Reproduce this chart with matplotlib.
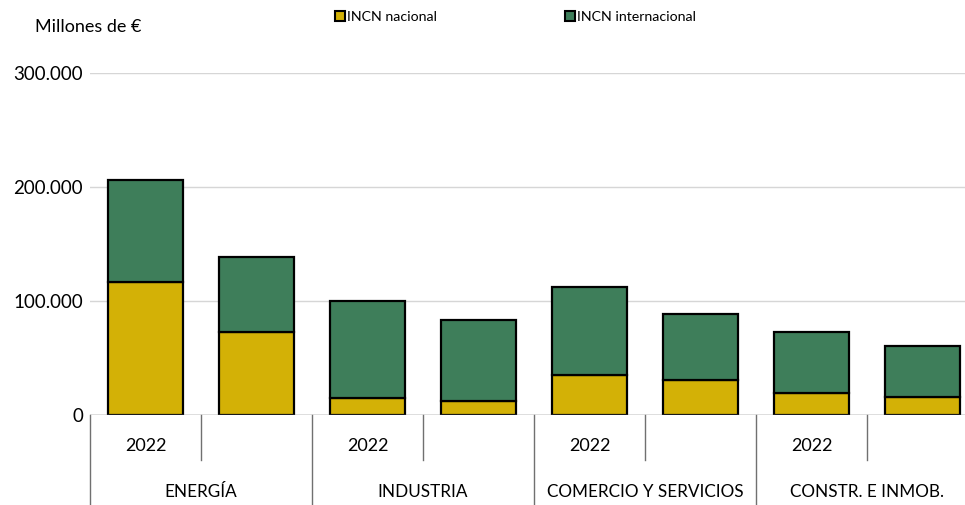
import matplotlib.pyplot as plt
from matplotlib.lines import Line2D
from matplotlib.ticker import FuncFormatter
import numpy as np

plt.rcParams['font.family'] = ['Lato', 'DejaVu Sans']

# Data (millones de euros)
sectors = ['ENERGÍA', 'INDUSTRIA', 'COMERCIO Y SERVICIOS', 'CONSTR. E INMOB.']
years = ['2022', '', '2022', '', '2022', '', '2022', '']
nacional = [117000, 73000, 15000, 12000, 35000, 31000, 19500, 16000]
internacional = [89000, 66000, 85000, 71500, 77500, 58000, 53500, 44500]

col_nac = '#D3B106'
col_int = '#3E7E5A'

fig = plt.figure(figsize=(9.65, 5.05), dpi=100)
ax = fig.add_axes([90 / 965, 1 - 415 / 505, 888 / 965, 342 / 505])

x = np.arange(len(nacional))
ax.bar(x, nacional, width=0.67, color=col_nac, edgecolor='black', linewidth=1.6, zorder=3)
ax.bar(x, internacional, bottom=nacional, width=0.67, color=col_int,
       edgecolor='black', linewidth=1.6, zorder=3)

ax.set_xlim(-0.5, len(nacional) - 0.5)
ax.set_ylim(0, 300000)
ax.set_yticks([0, 100000, 200000, 300000])
ax.yaxis.set_major_formatter(FuncFormatter(lambda v, p: f'{int(v):,}'.replace(',', '.')))
ax.tick_params(axis='y', length=0, labelsize=13.5, pad=5)
ax.grid(axis='y', color='#d6d6d6', linewidth=1.0, zorder=0)
for s in ['top', 'right', 'left', 'bottom']:
    ax.spines[s].set_visible(False)
ax.axhline(0, color='#808080', linewidth=1.0, zorder=4)
ax.set_xticks([])

# two-level category axis
tr = ax.get_xaxis_transform()
for i in range(len(nacional) + 1):
    xb = i - 0.5
    if i % 2 == 0:
        ax.plot([xb, xb], [0, -0.27], transform=tr, color='#707070', lw=1.0, clip_on=False)
    else:
        ax.plot([xb, xb], [0, -0.132], transform=tr, color='#707070', lw=1.0, clip_on=False)
for i, yl in enumerate(years):
    ax.text(i, -0.09, yl, transform=tr, ha='center', va='center', fontsize=13)
for j, s in enumerate(sectors):
    ax.text(2 * j + 0.5, -0.225, s, transform=tr, ha='center', va='center', fontsize=12.3)

fig.text(35 / 965, 1 - 27 / 505, 'Millones de €', ha='left', va='center', fontsize=13)

handles = [Line2D([], [], marker='s', linestyle='none', markersize=6.5, markerfacecolor=col_nac,
                  markeredgecolor='black', markeredgewidth=1.5),
           Line2D([], [], marker='s', linestyle='none', markersize=6.5, markerfacecolor=col_int,
                  markeredgecolor='black', markeredgewidth=1.5)]
fig.legend(handles, ['INCN nacional', 'INCN internacional'], ncol=2, frameon=False,
           loc='center left', bbox_to_anchor=(327 / 965, 1 - 17 / 505), fontsize=10.2,
           handlelength=0.8, handletextpad=0.1, columnspacing=9.0, borderpad=0)

fig.savefig('out.png', dpi=100)
